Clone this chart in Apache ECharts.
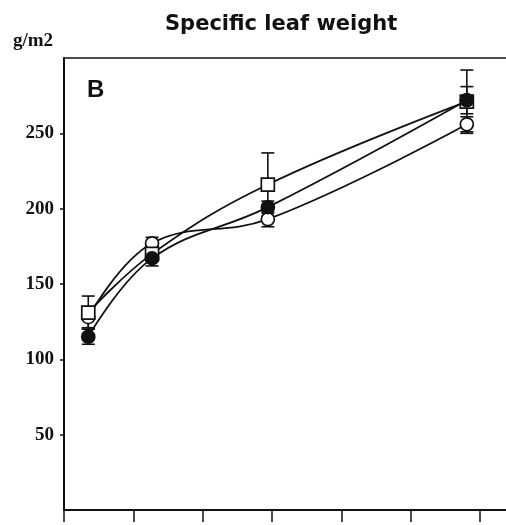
<!DOCTYPE html>
<html>
<head>
<meta charset="utf-8">
<title>Specific leaf weight</title>
<script src="https://cdn.jsdelivr.net/npm/echarts@6/dist/echarts.min.js"></script>
<style>
  html, body { margin: 0; padding: 0; background: #fff; }
  #chart { width: 506px; height: 525px; }
</style>
</head>
<body>
<div id="chart"></div>
<script>
// Sampling times (days) shared by the three treatments
const days = [3.5, 12.7, 29.4, 58.1];

// Specific leaf weight, g/m2 (mean and standard error)
const squareMean = [131, 170, 216, 271];
const squareErr  = [11, 5, 21, 21];
const filledMean = [115, 167, 201, 272];
const filledErr  = [5, 5, 4, 9];
const circleMean = [128, 177, 193, 256];
const circleErr  = [7, 4, 5, 5];

// Axis ticks
const xTicks = [0, 10, 20, 30, 40, 50, 60];
const yTicks = [50, 100, 150, 200, 250];

const ink = '#111';
const xMax = 63.75;

function pairs(mean) {
  return days.map((d, i) => [d, mean[i]]);
}
function errData(mean, err) {
  return days.map((d, i) => [d, mean[i] - err[i], mean[i] + err[i]]);
}

function errorBars(mean, err) {
  return {
    type: 'custom',
    z: 1,
    silent: true,
    data: errData(mean, err),
    encode: { x: 0, y: [1, 2] },
    renderItem: function (params, api) {
      const lo = api.coord([api.value(0), api.value(1)]);
      const hi = api.coord([api.value(0), api.value(2)]);
      const half = 6.5;
      const style = { stroke: ink, lineWidth: 1.6, fill: null };
      return {
        type: 'group',
        children: [
          { type: 'line', shape: { x1: hi[0], y1: hi[1], x2: lo[0], y2: lo[1] }, style: style },
          { type: 'line', shape: { x1: hi[0] - half, y1: hi[1], x2: hi[0] + half, y2: hi[1] }, style: style },
          { type: 'line', shape: { x1: lo[0] - half, y1: lo[1], x2: lo[0] + half, y2: lo[1] }, style: style }
        ]
      };
    }
  };
}

function curve(mean, symbol, fill, size) {
  return {
    type: 'line',
    z: 3,
    data: pairs(mean),
    smooth: 0.4,
    symbol: symbol,
    symbolSize: size,
    lineStyle: { color: ink, width: 1.8 },
    itemStyle: { color: fill, borderColor: ink, borderWidth: 1.7 },
    emphasis: { disabled: true },
    animation: false
  };
}

const chart = echarts.init(document.getElementById('chart'), null, { renderer: 'canvas' });

chart.setOption({
  animation: false,
  backgroundColor: '#fff',
  title: {
    text: 'Specific leaf weight',
    left: 160,
    top: 9,
    textStyle: { fontFamily: 'DejaVu Sans', fontWeight: 'bold', fontSize: 21, color: ink }
  },
  graphic: [
    {
      type: 'text', left: 13, top: 32,
      style: { text: 'g/m2', font: 'bold 19px "Liberation Serif"', fill: ink }
    },
    {
      type: 'text', left: 87, top: 78,
      style: { text: 'B', font: 'bold 24px "Liberation Sans"', fill: ink }
    }
  ],
  grid: { left: 64, right: 0, top: 58, bottom: 15 },
  xAxis: [
    {
      type: 'value',
      min: 0, max: xMax,
      axisLine: { show: true, onZero: false, lineStyle: { color: ink, width: 2 } },
      axisTick: { show: true, inside: false, length: 12, customValues: xTicks, lineStyle: { color: ink, width: 1.5 } },
      axisLabel: { show: false },
      splitLine: { show: false }
    },
    {
      // plain frame line along the top of the plot
      type: 'value',
      position: 'top',
      min: 0, max: xMax,
      axisLine: { show: true, onZero: false, lineStyle: { color: ink, width: 1.5 } },
      axisTick: { show: false },
      axisLabel: { show: false },
      splitLine: { show: false }
    }
  ],
  yAxis: {
    type: 'value',
    min: 0, max: 300,
    axisLine: { show: true, onZero: false, lineStyle: { color: ink, width: 2 } },
    axisTick: { show: true, inside: false, length: 4, customValues: yTicks, lineStyle: { color: ink, width: 1.5 } },
    axisLabel: {
      show: true, customValues: yTicks, margin: 10,
      fontFamily: 'Liberation Serif', fontWeight: 'bold', fontSize: 19, color: ink
    },
    splitLine: { show: false }
  },
  series: [
    errorBars(squareMean, squareErr),
    errorBars(filledMean, filledErr),
    errorBars(circleMean, circleErr),
    curve(circleMean, 'circle', '#fff', 13),
    curve(squareMean, 'rect', '#fff', 13),
    curve(filledMean, 'circle', ink, 13)
  ]
});
</script>
</body>
</html>
